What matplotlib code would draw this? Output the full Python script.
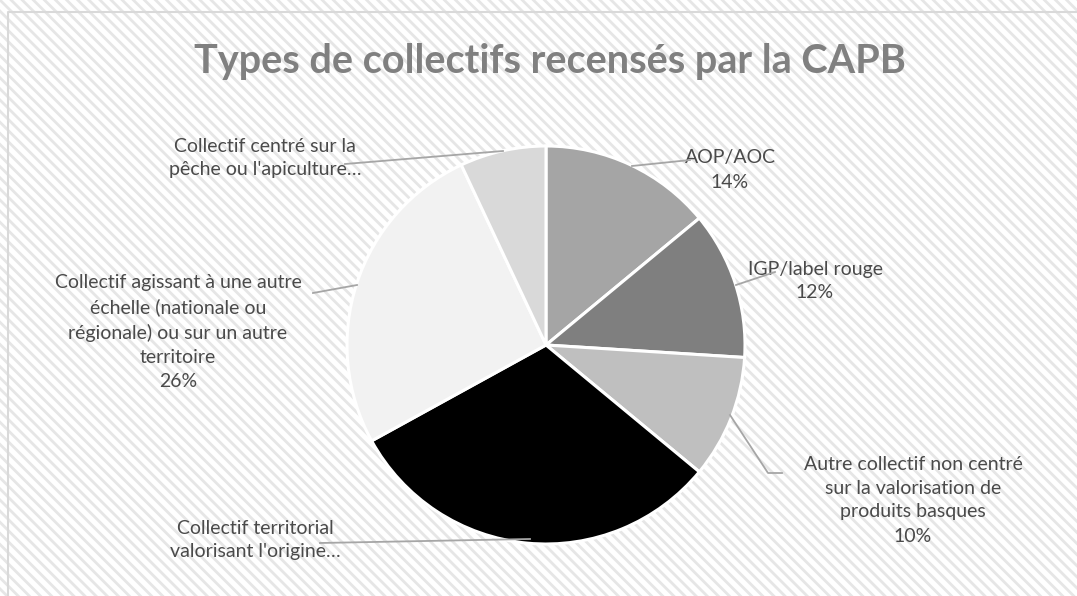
import matplotlib.pyplot as plt
import matplotlib.patches as mpatches

plt.rcParams['font.family'] = ['Lato', 'DejaVu Sans']
plt.rcParams['hatch.linewidth'] = 2.0

# donnees
categories = ['AOP/AOC', 'IGP/label rouge',
              'Autre collectif non centré\nsur la valorisation de\nproduits basques',
              "Collectif territorial\nvalorisant l'origine…",
              'Collectif agissant à une autre\néchelle (nationale ou\nrégionale) ou sur un autre\nterritoire',
              "Collectif centré sur la\npêche ou l'apiculture…"]
valeurs = [14, 12, 10, 31, 26, 7]
afficher_pct = [True, True, True, False, True, False]
couleurs = ['#a5a5a5', '#7f7f7f', '#bfbfbf', '#000000', '#f2f2f2', '#d9d9d9']

W, H = 1077, 596
fig = plt.figure(figsize=(W / 100, H / 100), dpi=100)
ax = fig.add_axes([0, 0, 1, 1])

# fond hachure + cadre
ax.add_patch(mpatches.Rectangle((0, 0), W, H, facecolor='white', edgecolor='#e6e6e6',
                                hatch='\\\\\\', linewidth=0, zorder=0))
ax.plot([8, 8, W + 5], [-5, H - 12, H - 12], color='#d9d9d9', linewidth=1.5, zorder=1)

cx, cy, r = 546, H - 345, 199
wedges, _ = ax.pie(valeurs, colors=couleurs, startangle=90, counterclock=False,
                   center=(cx, cy), radius=r, frame=True,
                   wedgeprops=dict(edgecolor='white', linewidth=2.2))
for w in wedges:
    w.set_zorder(2)
ax.set_xlim(0, W)
ax.set_ylim(0, H)
ax.set_aspect('equal')
ax.axis('off')

ax.text(W / 2 + 11, H - 62, 'Types de collectifs recensés par la CAPB', ha='center', va='center',
        fontsize=28.5, fontweight='bold', color='#808080', zorder=3)

# positions des etiquettes (x centre, y centre) et lignes de rappel
pos_lab = [(730, 170), (815, 281), (913, 500), (255, 540), (178, 332), (265, 158)]
rappels = [[(632, 166), (690, 160)],
           [(736, 285), (775, 272)],
           [(730, 415), (768, 473), (782, 473)],
           [(530, 539), (320, 543)],
           [(357, 285), (313, 293)],
           [(503, 151), (345, 164)]]

for lab, v, pct, (x, y), pts in zip(categories, valeurs, afficher_pct, pos_lab, rappels):
    txt = lab + ('\n{0}%'.format(v) if pct else '')
    ax.text(x, H - y, txt, ha='center', va='center', fontsize=14,
            color='#4a4a4a', linespacing=1.5, zorder=3)
    ax.plot([p[0] for p in pts], [H - p[1] for p in pts], color='#a6a6a6',
            linewidth=1.3, zorder=3)

plt.savefig('out.png', dpi=100)
